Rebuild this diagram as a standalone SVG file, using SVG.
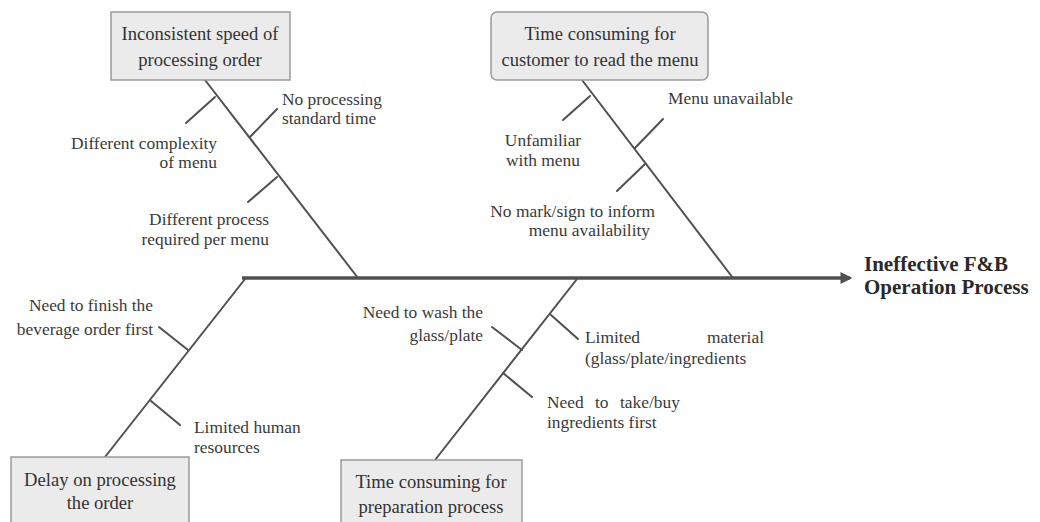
<svg xmlns="http://www.w3.org/2000/svg" width="1040" height="522" viewBox="0 0 1040 522">
<style>
.box{fill:#ebebeb;stroke:#9a9a9a;stroke-width:1.5}
.bt{font-family:"Liberation Serif",serif;font-size:18.6px;fill:#333;text-anchor:middle}
.lb{font-family:"Liberation Serif",serif;font-size:17.4px;fill:#3a3a3a}
.r{text-anchor:end}
.m{text-anchor:middle}
.ln{stroke:#505050;stroke-width:2;fill:none;stroke-linecap:round}
.main{stroke:#505050;stroke-width:3.5;fill:none}
.eff{font-family:"Liberation Serif",serif;font-size:21px;font-weight:bold;fill:#2a2a2a}
</style>
<defs>
<marker id="ah" viewBox="0 0 10 10" refX="8" refY="5" markerWidth="3.4" markerHeight="3.4" orient="auto" markerUnits="strokeWidth">
<path d="M0,0 L10,5 L0,10 z" fill="#505050"/>
</marker>
</defs>
<g id="connectors">
<line class="main" x1="242" y1="278" x2="850" y2="278" marker-end="url(#ah)"/>
<line class="ln" x1="205" y1="80" x2="358" y2="278"/>
<line class="ln" x1="215" y1="97" x2="186" y2="123"/>
<line class="ln" x1="250" y1="137" x2="277" y2="109"/>
<line class="ln" x1="277" y1="177" x2="248" y2="202"/>
<line class="ln" x1="582" y1="80" x2="733" y2="278"/>
<line class="ln" x1="590" y1="96" x2="563" y2="120"/>
<line class="ln" x1="635" y1="148" x2="663" y2="119"/>
<line class="ln" x1="645" y1="164" x2="617" y2="191"/>
<line class="ln" x1="245" y1="279" x2="105" y2="457"/>
<line class="ln" x1="188" y1="350" x2="159" y2="327"/>
<line class="ln" x1="151" y1="401" x2="180" y2="425"/>
<line class="ln" x1="577" y1="279" x2="435" y2="460"/>
<line class="ln" x1="551" y1="315" x2="578" y2="339"/>
<line class="ln" x1="522" y1="350" x2="492" y2="327"/>
<line class="ln" x1="503" y1="373" x2="532" y2="397"/>
</g>
<g id="node-inconsistent">
<rect class="box" x="111" y="12" width="179" height="68"/>
<text class="bt" x="200" y="40">Inconsistent speed of</text>
<text class="bt" x="200" y="66">processing order</text>
</g>
<g id="node-time-menu">
<rect class="box" x="491" y="12" width="217" height="68" rx="6"/>
<text class="bt" x="600" y="40">Time consuming for</text>
<text class="bt" x="600" y="66">customer to read the menu</text>
</g>
<g id="node-delay">
<rect class="box" x="11" y="457" width="178" height="72"/>
<text class="bt" x="100" y="486">Delay on processing</text>
<text class="bt" x="100" y="509">the order</text>
</g>
<g id="node-preparation">
<rect class="box" x="341" y="460" width="181" height="72"/>
<text class="bt" x="431" y="488">Time consuming for</text>
<text class="bt" x="431" y="513">preparation process</text>
</g>
<g id="node-effect">
<text class="eff" x="864" y="271">Ineffective F&amp;B</text>
<text class="eff" x="864" y="294">Operation Process</text>
</g>
<g id="labels">
<text class="lb r" x="217" y="149">Different complexity</text>
<text class="lb r" x="217" y="168">of menu</text>
<text class="lb" x="282" y="105">No processing</text>
<text class="lb" x="282" y="124">standard time</text>
<text class="lb r" x="269" y="225">Different process</text>
<text class="lb r" x="269" y="245">required per menu</text>
<text class="lb m" x="543" y="146">Unfamiliar</text>
<text class="lb m" x="543" y="166">with menu</text>
<text class="lb" x="668" y="104">Menu unavailable</text>
<text class="lb r" x="655" y="217">No mark/sign to inform</text>
<text class="lb r" x="650" y="236">menu availability</text>
<text class="lb r" x="153" y="311">Need to finish the</text>
<text class="lb r" x="153" y="335">beverage order first</text>
<text class="lb" x="194" y="433">Limited human</text>
<text class="lb" x="194" y="453">resources</text>
<text class="lb r" x="483" y="318">Need to wash the</text>
<text class="lb r" x="483" y="341">glass/plate</text>
<text class="lb" x="585" y="343">Limited</text>
<text class="lb r" x="764" y="343">material</text>
<text class="lb" x="585" y="364">(glass/plate/ingredients</text>
<text class="lb" x="547" y="408"><tspan x="547">Need</tspan><tspan x="595">to</tspan><tspan x="620">take/buy</tspan></text>
<text class="lb" x="547" y="428">ingredients first</text>
</g>
</svg>
